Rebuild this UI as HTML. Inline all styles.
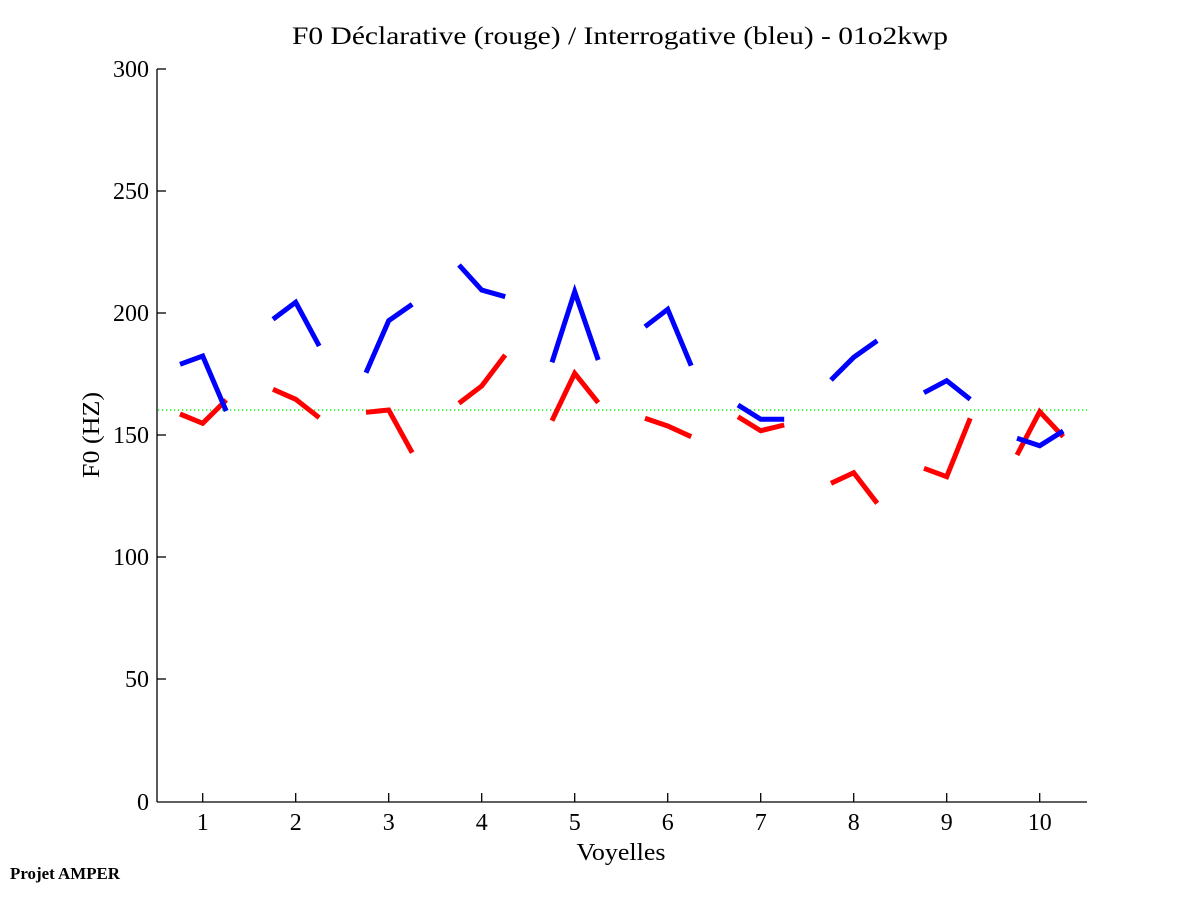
<!DOCTYPE html>
<html>
<head>
<meta charset="utf-8">
<style>
html,body{margin:0;padding:0;background:#fff;}
svg{display:block;}
text{font-family:"Liberation Serif","DejaVu Serif",serif;fill:#000;}
</style>
</head>
<body>
<svg width="1201" height="901" viewBox="0 0 1201 901" xmlns="http://www.w3.org/2000/svg">
<rect x="0" y="0" width="1201" height="901" fill="#fff"/>

<!-- title -->
<text x="620" y="44" font-size="25" text-anchor="middle" textLength="656" lengthAdjust="spacingAndGlyphs">F0 Déclarative (rouge) / Interrogative (bleu) - 01o2kwp</text>

<!-- axes -->
<g stroke="#000" stroke-width="1.3" fill="none">
<line x1="157" y1="69" x2="157" y2="802"/>
<line x1="157" y1="802" x2="1087" y2="802"/>
<line x1="157" y1="69" x2="166" y2="69"/>
<line x1="157" y1="191" x2="166" y2="191"/>
<line x1="157" y1="313" x2="166" y2="313"/>
<line x1="157" y1="435" x2="166" y2="435"/>
<line x1="157" y1="557" x2="166" y2="557"/>
<line x1="157" y1="679" x2="166" y2="679"/>
<line x1="202.7" y1="802" x2="202.7" y2="793"/>
<line x1="295.7" y1="802" x2="295.7" y2="793"/>
<line x1="388.7" y1="802" x2="388.7" y2="793"/>
<line x1="481.7" y1="802" x2="481.7" y2="793"/>
<line x1="574.7" y1="802" x2="574.7" y2="793"/>
<line x1="667.7" y1="802" x2="667.7" y2="793"/>
<line x1="760.7" y1="802" x2="760.7" y2="793"/>
<line x1="853.7" y1="802" x2="853.7" y2="793"/>
<line x1="946.7" y1="802" x2="946.7" y2="793"/>
<line x1="1039.7" y1="802" x2="1039.7" y2="793"/>
</g>

<!-- y tick labels -->
<g font-size="24" text-anchor="end">
<text x="149" y="77">300</text>
<text x="149" y="199">250</text>
<text x="149" y="321">200</text>
<text x="149" y="443">150</text>
<text x="149" y="565">100</text>
<text x="149" y="687">50</text>
<text x="149" y="810">0</text>
</g>

<!-- x tick labels -->
<g font-size="24" text-anchor="middle">
<text x="202.7" y="830">1</text>
<text x="295.7" y="830">2</text>
<text x="388.7" y="830">3</text>
<text x="481.7" y="830">4</text>
<text x="574.7" y="830">5</text>
<text x="667.7" y="830">6</text>
<text x="760.7" y="830">7</text>
<text x="853.7" y="830">8</text>
<text x="946.7" y="830">9</text>
<text x="1039.7" y="830">10</text>
</g>

<!-- axis labels -->
<text x="621" y="860" font-size="24" text-anchor="middle" textLength="89" lengthAdjust="spacingAndGlyphs">Voyelles</text>
<text x="0" y="0" font-size="24" text-anchor="middle" transform="translate(99,435) rotate(-90)" textLength="86" lengthAdjust="spacingAndGlyphs">F0 (HZ)</text>

<!-- footer -->
<text x="10" y="879" font-size="17" font-weight="bold" textLength="110" lengthAdjust="spacingAndGlyphs">Projet AMPER</text>

<!-- green reference line -->
<line x1="158" y1="410" x2="1087" y2="410" stroke="#00ff00" stroke-width="1.6" stroke-dasharray="1.2,2.8"/>

<!-- red series -->
<g stroke="#ff0000" stroke-width="5" fill="none" stroke-linejoin="miter" stroke-linecap="butt">
<polyline points="180,414 202.7,423.3 226.2,400"/>
<polyline points="273,389.3 295.7,399.3 319.2,417.7"/>
<polyline points="366,412.3 388.7,410 412.2,452.7"/>
<polyline points="459,403.3 481.7,386 505.2,355"/>
<polyline points="552,420.7 574.7,373.3 598.2,402.7"/>
<polyline points="645,418.3 667.7,426 691.2,436.7"/>
<polyline points="738,416.7 760.7,430.7 784.2,425"/>
<polyline points="831,483.3 853.7,472.7 877.2,503.3"/>
<polyline points="924,468.3 946.7,476.7 970.2,418.3"/>
<polyline points="1017,455 1039.7,411.7 1063.2,436.7"/>
</g>

<!-- blue series -->
<g stroke="#0000ff" stroke-width="5" fill="none" stroke-linejoin="miter" stroke-linecap="butt">
<polyline points="180,364.3 202.7,356 226.2,411"/>
<polyline points="273,319.3 295.7,302.3 319.2,346"/>
<polyline points="366,372.7 388.7,320.7 412.2,304.3"/>
<polyline points="459,265 481.7,290 505.2,296.7"/>
<polyline points="552,362.3 574.7,291.7 598.2,360"/>
<polyline points="645,326.7 667.7,309.3 691.2,365.7"/>
<polyline points="738,405 760.7,419.3 784.2,419.3"/>
<polyline points="831,380 853.7,357.3 877.2,340.7"/>
<polyline points="924,392.7 946.7,380.7 970.2,399.3"/>
<polyline points="1017,438.3 1039.7,445.7 1063.2,431"/>
</g>
</svg>
</body>
</html>
